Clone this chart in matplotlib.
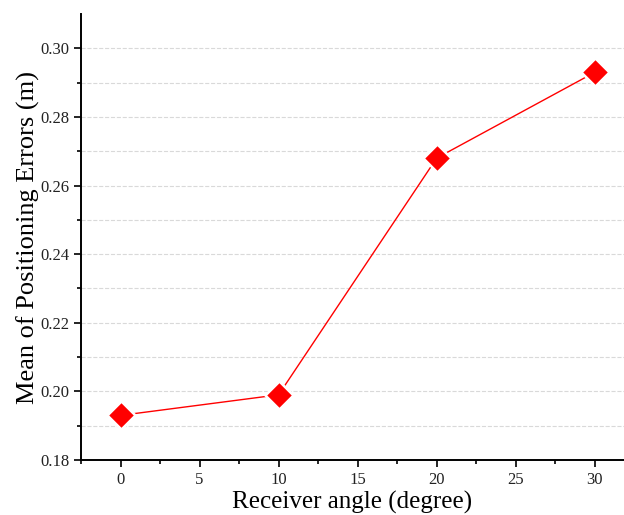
import matplotlib.pyplot as plt
from matplotlib.ticker import MultipleLocator, FixedLocator

# Receiver angle vs mean positioning error
angles = [0, 10, 20, 30]
mean_errors = [0.193, 0.199, 0.268, 0.293]

plt.rcParams['font.family'] = ['Liberation Serif', 'DejaVu Serif']

fig = plt.figure(figsize=(6.24, 5.15), dpi=100)
ax = fig.add_axes([0.1298, 0.1068, 0.8702, 0.866])

ax.plot(angles, mean_errors, color='red', linewidth=1, marker='D',
        markersize=14, markerfacecolor='red', markeredgecolor='white',
        markeredgewidth=1.8, zorder=3)

ax.set_xlim(-2.5, 31.85)
ax.set_ylim(0.18, 0.31)

ax.xaxis.set_major_locator(MultipleLocator(5))
ax.xaxis.set_minor_locator(MultipleLocator(2.5))
ax.yaxis.set_major_locator(MultipleLocator(0.02))
ax.yaxis.set_minor_locator(FixedLocator([0.19, 0.21, 0.23, 0.25, 0.27, 0.29]))
ax.yaxis.set_major_formatter(plt.FormatStrFormatter('%.2f'))

ax.tick_params(which='major', direction='out', length=5, width=1.2,
               labelsize=12, labelcolor='#222222')
ax.tick_params(which='minor', direction='out', length=3, width=1.2)

# dashed grid at every 0.01
ax.grid(True, axis='y', which='both', linestyle='--', color='#d9d9d9', linewidth=0.8)
ax.set_axisbelow(True)

for side in ['top', 'right']:
    ax.spines[side].set_visible(False)
for side in ['left', 'bottom']:
    ax.spines[side].set_linewidth(1.4)

ax.set_xlabel('Receiver angle (degree)', fontsize=18, labelpad=2)
ax.set_ylabel('Mean of Positioning Errors (m)', fontsize=19, labelpad=0)

fig.savefig('out.png', dpi=100)
